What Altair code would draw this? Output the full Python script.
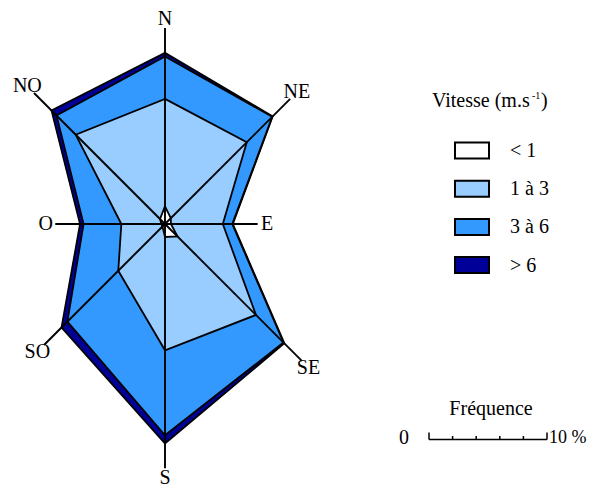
import altair as alt
import pandas as pd
import numpy as np

# ---- data (frequency in % per direction and speed class) ----
directions = ["N", "NE", "E", "SE", "S", "SO", "O", "NO"]
angles = [0, 45, 90, 135, 180, 225, 270, 315]
freq_lt1 = [1.5, 0.7, 0.5, 1.5, 1.1, 0.3, 0.3, 0.6]
freq_1_3 = [9.1, 9.1, 4.4, 9.4, 9.6, 5.3, 3.4, 10.1]
freq_3_6 = [3.6, 3.05, 0.8, 3.3, 7.2, 6.1, 3.2, 2.3]
freq_gt6 = [0.3, 0.05, 0.05, 0.1, 0.7, 0.7, 0.3, 0.6]
classes = ["< 1", "1 à 3", "3 à 6", "> 6"]
colors = ["#ffffff", "#99ccff", "#3399ff", "#000099"]
scale_ticks = [0, 2, 4, 6, 8, 10]

# ---- layout ----
PX_PER_PCT = 11.8
W, H = 579, 483
CX, CY = 157, 216
xdom = [-CX / PX_PER_PCT, (W - CX) / PX_PER_PCT]
ydom = [-(H - CY) / PX_PER_PCT, CY / PX_PER_PCT]
xs = alt.Scale(domain=xdom, nice=False, zero=False)
ys = alt.Scale(domain=ydom, nice=False, zero=False)
FONT = "Liberation Serif"

series = [freq_lt1, freq_1_3, freq_3_6, freq_gt6]
rows = []
cum = np.zeros(len(directions))
for k, s in enumerate(series):
    cum = cum + np.array(s)
    for i in range(len(directions)):
        rows.append({"cls": classes[k], "k": k, "i": i, "dir": directions[i],
                     "angle": angles[i], "r": float(cum[i])})
df = pd.DataFrame(rows)

base = alt.Chart(df)

layers = []
for k in [3, 2, 1, 0]:
    layers.append(
        base.transform_filter(alt.datum.k == k)
        .transform_calculate(
            px="datum.r*sin(datum.angle*PI/180)",
            py="datum.r*cos(datum.angle*PI/180)",
        )
        .mark_line(interpolate="linear-closed", fill=colors[k], stroke="black",
                   strokeWidth=1.8, strokeJoin="miter")
        .encode(
            x=alt.X("px:Q", scale=xs, axis=None),
            y=alt.Y("py:Q", scale=ys, axis=None),
            order=alt.Order("i:Q"),
        )
    )

total = base.transform_filter(alt.datum.k == 3)

axes_rules = total.transform_calculate(
    x0="0", y0="0",
    xe="(datum.r+2.1)*sin(datum.angle*PI/180)",
    ye="(datum.r+2.1)*cos(datum.angle*PI/180)",
).mark_rule(stroke="black", strokeWidth=1.9).encode(
    x=alt.X("x0:Q", scale=xs, axis=None),
    y=alt.Y("y0:Q", scale=ys, axis=None),
    x2="xe:Q",
    y2="ye:Q",
)

dir_labels = total.transform_calculate(
    xl="(datum.r+2.9)*sin(datum.angle*PI/180)",
    yl="(datum.r+2.9)*cos(datum.angle*PI/180)",
).mark_text(font=FONT, fontSize=20, align="center", baseline="middle", color="black").encode(
    x=alt.X("xl:Q", scale=xs, axis=None),
    y=alt.Y("yl:Q", scale=ys, axis=None),
    text="dir:N",
)

# ---- legend ----
leg_df = pd.DataFrame({"cls": classes, "color": colors, "i": list(range(4))})
leg = alt.Chart(leg_df).transform_calculate(
    rx1="447", rx2="481",
    ry1="134.5 + datum.i*38.2", ry2="150.5 + datum.i*38.2",
    ty="143 + datum.i*38.2", tx="502",
)
leg_rects = leg.mark_rect(stroke="black", strokeWidth=2).encode(
    x=alt.X("rx1:Q", scale=None, axis=None), x2="rx2:Q",
    y=alt.Y("ry1:Q", scale=None, axis=None), y2="ry2:Q",
    fill=alt.Fill("color:N", scale=None),
)
leg_text = leg.mark_text(font=FONT, fontSize=20, align="left", baseline="middle", color="black").encode(
    x=alt.X("tx:Q", scale=None, axis=None),
    y=alt.Y("ty:Q", scale=None, axis=None),
    text="cls:N",
)

title_main = alt.Chart(pd.DataFrame({"t": ["Vitesse (m.s"]})).mark_text(
    font=FONT, fontSize=20, align="left", baseline="middle", color="black"
).encode(x=alt.value(424), y=alt.value(93), text="t:N")
title_sup = alt.Chart(pd.DataFrame({"t": ["-1"]})).mark_text(
    font=FONT, fontSize=10, align="left", baseline="middle", color="black"
).encode(x=alt.value(524), y=alt.value(88), text="t:N")
title_close = alt.Chart(pd.DataFrame({"t": [")"]})).mark_text(
    font=FONT, fontSize=20, align="left", baseline="middle", color="black"
).encode(x=alt.value(533), y=alt.value(93), text="t:N")

# ---- frequency scale bar (uses the same x scale as the rose) ----
S0 = (421 - CX) / PX_PER_PCT
sb_df = pd.DataFrame({"t": scale_ticks})
sb = alt.Chart(sb_df).transform_calculate(
    tx=f"datum.t + {S0}",
    ytop="(datum.t == 0 || datum.t == 10) ? 424.5 : 428",
    ybot="431.5",
)
sb_ticks = sb.mark_rule(stroke="black", strokeWidth=1.5).encode(
    x=alt.X("tx:Q", scale=xs, axis=None),
    y=alt.Y("ytop:Q", scale=None, axis=None),
    y2="ybot:Q",
)
sb_line = alt.Chart(pd.DataFrame({"a": [0], "b": [10]})).transform_calculate(
    xa=f"datum.a + {S0}", xb=f"datum.b + {S0}"
).mark_rule(stroke="black", strokeWidth=1.5).encode(
    x=alt.X("xa:Q", scale=xs, axis=None), x2="xb:Q", y=alt.value(431.5)
)
sb_t1 = alt.Chart(pd.DataFrame({"t": ["Fréquence"]})).mark_text(
    font=FONT, fontSize=20, align="center", baseline="middle", color="black"
).encode(x=alt.value(483), y=alt.value(401), text="t:N")
sb_t2 = alt.Chart(pd.DataFrame({"t": ["0"]})).mark_text(
    font=FONT, fontSize=20, align="center", baseline="middle", color="black"
).encode(x=alt.value(396), y=alt.value(430), text="t:N")
sb_t3 = alt.Chart(pd.DataFrame({"t": ["10 %"]})).mark_text(
    font=FONT, fontSize=18, align="left", baseline="middle", color="black"
).encode(x=alt.value(541), y=alt.value(430), text="t:N")

chart = alt.layer(
    *layers, axes_rules, dir_labels, leg_rects, leg_text,
    title_main, title_sup, title_close, sb_line, sb_ticks, sb_t1, sb_t2, sb_t3,
).resolve_scale(x="independent", y="independent").properties(
    width=W, height=H, padding=0, background="white",
    autosize=alt.AutoSizeParams(type="none")
).configure_view(strokeWidth=0, stroke="transparent")

chart.save("out.html", embed_options={"renderer": "svg", "actions": False})
